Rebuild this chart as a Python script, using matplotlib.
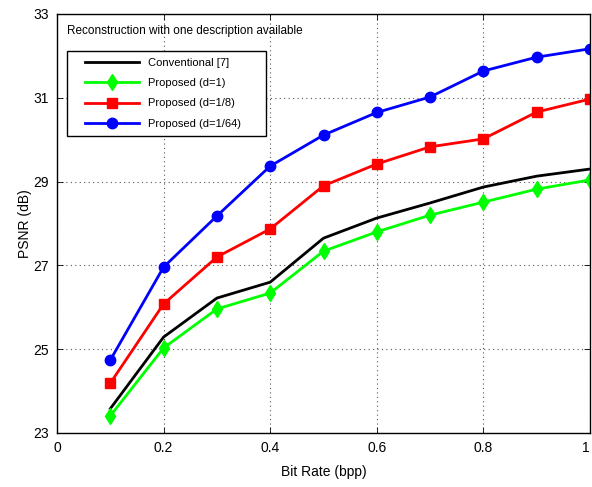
import matplotlib
matplotlib.use("Agg")
import matplotlib.pyplot as plt
from matplotlib.patches import Rectangle

plt.rcParams['font.family'] = ['Liberation Sans', 'DejaVu Sans']

bit_rate = [0.1, 0.2, 0.3, 0.4, 0.5, 0.6, 0.7, 0.8, 0.9, 1.0]
conventional = [23.58, 25.29, 26.22, 26.60, 27.65, 28.13, 28.49, 28.87, 29.13, 29.30]
proposed_d1 = [23.41, 25.03, 25.96, 26.34, 27.34, 27.80, 28.20, 28.51, 28.82, 29.04]
proposed_d8 = [24.19, 26.08, 27.20, 27.87, 28.90, 29.42, 29.83, 30.02, 30.66, 30.97]
proposed_d64 = [24.74, 26.96, 28.18, 29.37, 30.11, 30.65, 31.02, 31.64, 31.97, 32.17]

labels = ['Conventional [7]', 'Proposed (d=1)', 'Proposed (d=1/8)', 'Proposed (d=1/64)']
xticks = [0, 0.2, 0.4, 0.6, 0.8, 1]
xticklabels = ['0', '0.2', '0.4', '0.6', '0.8', '1']
yticks = [23, 25, 27, 29, 31, 33]

W, H = 592, 487
fig = plt.figure(figsize=(W/100, H/100), dpi=100)
ax = fig.add_axes([57/W, 1-433/H, (590-57)/W, (433-14)/H])

ax.plot(bit_rate, conventional, color='black', lw=2, label=labels[0])
ax.plot(bit_rate, proposed_d1, color='#00ff00', lw=2, marker='d', ms=8, label=labels[1])
ax.plot(bit_rate, proposed_d8, color='#ff0000', lw=2, marker='s', ms=6.5, label=labels[2])
ax.plot(bit_rate, proposed_d64, color='#0000ff', lw=2, marker='o', ms=7.5, label=labels[3])

ax.set_xlim(0, 1)
ax.set_ylim(23, 33)
ax.set_xticks(xticks)
ax.set_xticklabels(xticklabels)
ax.set_yticks(yticks)
ax.tick_params(direction='in', labelsize=10, length=4, width=0.6, pad=6, top=True, right=True)
ax.get_xticklabels()[-1].set_horizontalalignment('right')
ax.grid(True, linestyle=(0, (1, 3)), color='#555555', lw=0.8)
for s in ax.spines.values():
    s.set_linewidth(1.0)

ax.set_xlabel('Bit Rate (bpp)', fontsize=10, labelpad=7)
ax.set_ylabel('PSNR (dB)', fontsize=10, labelpad=1)

fig.text(67/W, 1-31/H, 'Reconstruction with one description available',
         fontsize=8.5, va='center', ha='left')

leg = ax.legend(loc='upper left', bbox_to_anchor=(85/W, 1-58/H), bbox_transform=fig.transFigure,
                fontsize=8, frameon=False, handlelength=4.9, borderpad=0,
                labelspacing=0.92, handletextpad=0.75, borderaxespad=0)
leg.set_zorder(6)
box = Rectangle((67/W, 1-136/H), 199/W, 85/H, transform=fig.transFigure,
                facecolor='white', edgecolor='black', lw=1.0, zorder=5.5, clip_on=False)
ax.add_artist(box)

fig.savefig('out.png', dpi=100)
